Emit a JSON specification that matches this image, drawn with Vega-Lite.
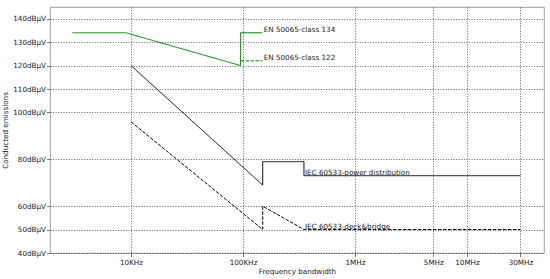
{
  "$schema": "https://vega.github.io/schema/vega-lite/v6.json",
  "autosize": {"type": "none"},
  "padding": {"left": 50, "top": 7, "right": 6, "bottom": 26},
  "width": 494,
  "height": 246,
  "background": "white",
  "config": {
    "font": "DejaVu Sans",
    "view": {"stroke": "#888", "strokeWidth": 0.8},
    "axis": {
      "labelFont": "DejaVu Sans", "labelFontSize": 7.2, "labelColor": "#222",
      "titleFont": "DejaVu Sans", "titleFontSize": 7.2, "titleFontWeight": "normal", "titleColor": "#222",
      "grid": true, "gridColor": "#000", "gridOpacity": 0.75, "gridDash": [1, 1.6], "gridWidth": 0.8,
      "domain": false, "tickColor": "#444", "tickSize": 3.5, "tickWidth": 0.7,
      "labelOverlap": false, "labelBound": false, "labelFlush": false
    }
  },
  "datasets": {
    "lines": [
      {"series": "EN 50065-class 134", "freq": 3000, "level": 134, "ord": 1},
      {"series": "EN 50065-class 134", "freq": 9000, "level": 134, "ord": 2},
      {"series": "EN 50065-class 134", "freq": 95000, "level": 120, "ord": 3},
      {"series": "EN 50065-class 134", "freq": 95000, "level": 134, "ord": 4},
      {"series": "EN 50065-class 134", "freq": 148500, "level": 134, "ord": 5},
      {"series": "EN 50065-class 122", "freq": 95000, "level": 122, "ord": 1},
      {"series": "EN 50065-class 122", "freq": 148500, "level": 122, "ord": 2},
      {"series": "IEC 60533-power distribution", "freq": 10000, "level": 120, "ord": 1},
      {"series": "IEC 60533-power distribution", "freq": 150000, "level": 69, "ord": 2},
      {"series": "IEC 60533-power distribution", "freq": 150000, "level": 79, "ord": 3},
      {"series": "IEC 60533-power distribution", "freq": 350000, "level": 79, "ord": 4},
      {"series": "IEC 60533-power distribution", "freq": 350000, "level": 73, "ord": 5},
      {"series": "IEC 60533-power distribution", "freq": 30000000, "level": 73, "ord": 6},
      {"series": "IEC 60533-deck&bridge", "freq": 10000, "level": 96, "ord": 1},
      {"series": "IEC 60533-deck&bridge", "freq": 150000, "level": 50, "ord": 2},
      {"series": "IEC 60533-deck&bridge", "freq": 150000, "level": 60, "ord": 3},
      {"series": "IEC 60533-deck&bridge", "freq": 350000, "level": 50, "ord": 4},
      {"series": "IEC 60533-deck&bridge", "freq": 30000000, "level": 50, "ord": 5}
    ],
    "labels": [
      {"label": "EN 50065-class 134", "freq": 150000, "level": 134},
      {"label": "EN 50065-class 122", "freq": 150000, "level": 122},
      {"label": "IEC 60533-power distribution", "freq": 350000, "level": 73},
      {"label": "IEC 60533-deck&bridge", "freq": 350000, "level": 50}
    ]
  },
  "layer": [
    {
      "data": {"name": "lines"},
      "mark": {"type": "line", "strokeWidth": 1, "clip": true},
      "encoding": {
        "x": {
          "field": "freq", "type": "quantitative",
          "scale": {"type": "log", "domain": [1891, 48700000], "nice": false},
          "title": "Frequency bandwidth",
          "axis": {
            "values": [10000, 100000, 1000000, 5000000, 10000000, 30000000],
            "tickCount": 20,
            "labelExpr": "datum.value >= 1000000 ? format(datum.value/1000000, 'd') + 'MHz' : format(datum.value/1000, 'd') + 'KHz'",
            "labelPadding": 2, "titlePadding": 2
          }
        },
        "y": {
          "field": "level", "type": "quantitative",
          "scale": {"domain": [40, 145], "nice": false, "zero": false},
          "title": "Conducted emissions",
          "axis": {
            "values": [40, 50, 60, 80, 100, 110, 120, 130, 140],
            "tickCount": 20,
            "labelExpr": "datum.value + 'dBµV'",
            "labelPadding": 1, "titlePadding": 3
          }
        },
        "order": {"field": "ord", "type": "quantitative"},
        "detail": {"field": "series"},
        "color": {
          "field": "series", "type": "nominal", "legend": null,
          "scale": {
            "domain": ["EN 50065-class 134", "EN 50065-class 122", "IEC 60533-power distribution", "IEC 60533-deck&bridge"],
            "range": ["#008000", "#008000", "#000000", "#000000"]
          }
        },
        "strokeDash": {
          "field": "series", "type": "nominal", "legend": null,
          "scale": {
            "domain": ["EN 50065-class 134", "EN 50065-class 122", "IEC 60533-power distribution", "IEC 60533-deck&bridge"],
            "range": [[1, 0], [3.5, 1.5], [1, 0], [3.5, 1.5]]
          }
        }
      }
    },
    {
      "data": {"name": "labels"},
      "mark": {"type": "text", "align": "left", "baseline": "alphabetic", "fontSize": 7.2, "color": "#222", "dx": 1, "dy": -1},
      "encoding": {
        "x": {"field": "freq", "type": "quantitative"},
        "y": {"field": "level", "type": "quantitative"},
        "text": {"field": "label"}
      }
    }
  ]
}
